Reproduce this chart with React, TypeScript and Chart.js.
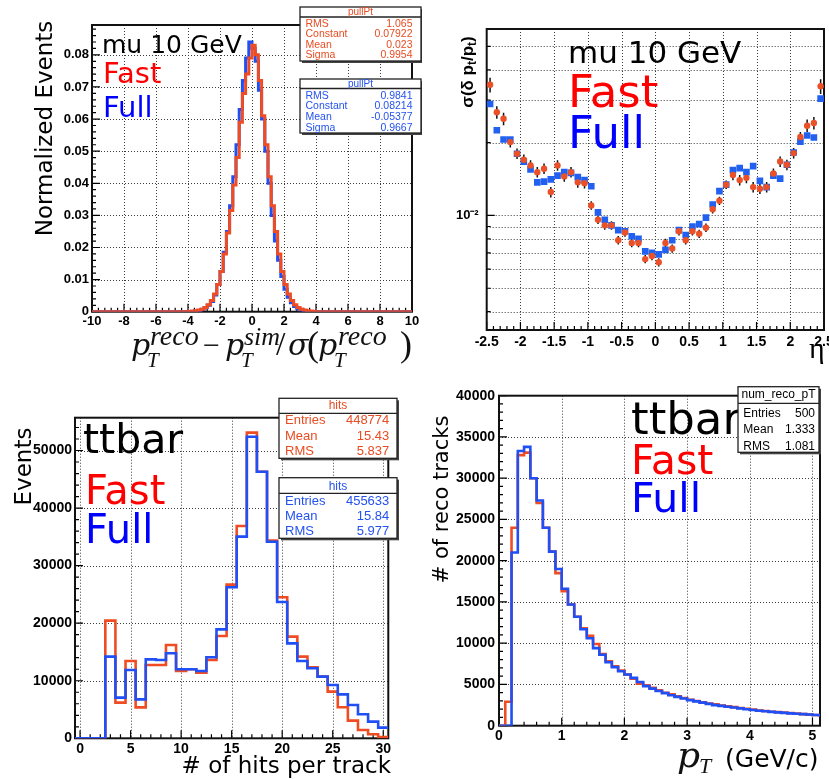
import React, { useEffect, useRef } from 'react';
import { Chart, registerables } from 'chart.js';
Chart.register(...registerables);

// ---------------- Data: panel 1 (pT pull, mu 10 GeV) ----------------
const pullFirstEdge = -4.0;
const pullBinWidth = 0.2;
const pullFast = [
  0.0001, 0.0002, 0.0003, 0.0005, 0.0008, 0.0013, 0.0022, 0.0035, 0.0055, 0.0085,
  0.0125, 0.018, 0.0245, 0.0315, 0.0395, 0.048, 0.059, 0.068, 0.074, 0.079,
  0.083, 0.08, 0.072, 0.061, 0.052, 0.042, 0.033, 0.025, 0.018, 0.0125,
  0.0085, 0.0055, 0.0035, 0.0022, 0.0013, 0.0008, 0.0005, 0.0003, 0.0002, 0.0001,
];
const pullFull = [
  0.0, 0.0001, 0.0002, 0.0004, 0.0007, 0.0012, 0.002, 0.0032, 0.0052, 0.0085,
  0.0125, 0.0185, 0.025, 0.033, 0.042, 0.052, 0.063, 0.072, 0.079, 0.084,
  0.082, 0.078, 0.069, 0.06, 0.05, 0.04, 0.03, 0.022, 0.016, 0.011,
  0.007, 0.0045, 0.0028, 0.0016, 0.0009, 0.0005, 0.0003, 0.0001, 0.0, 0.0,
];
const pullXTicks = [-10, -8, -6, -4, -2, 0, 2, 4, 6, 8, 10];
const pullYTicks = [0, 0.01, 0.02, 0.03, 0.04, 0.05, 0.06, 0.07, 0.08];

// ---------------- Data: panel 2 (resolution vs eta) ----------------
const etaFirstEdge = -2.5;
const etaBinWidth = 0.1;
const resFast = [
  0.0347, 0.0267, 0.0251, 0.0201, 0.018, 0.017, 0.0161, 0.0151, 0.0156, 0.0125,
  0.0161, 0.0145, 0.0151, 0.0137, 0.0136, 0.011, 0.0096, 0.0091, 0.0091, 0.0079,
  0.0085, 0.0077, 0.0077, 0.0066, 0.0068, 0.0064, 0.0077, 0.0073, 0.0086, 0.0079,
  0.0086, 0.0084, 0.0089, 0.0106, 0.0115, 0.0134, 0.0147, 0.014, 0.0143, 0.0131,
  0.0129, 0.0131, 0.0149, 0.0167, 0.0162, 0.0181, 0.0211, 0.0235, 0.0241, 0.0342,
];
const resFastErrRel = [
  0.07, 0.06, 0.06, 0.05, 0.05, 0.05, 0.05, 0.05, 0.05, 0.05,
  0.05, 0.05, 0.05, 0.05, 0.05, 0.04, 0.04, 0.04, 0.04, 0.04,
  0.04, 0.04, 0.04, 0.04, 0.04, 0.04, 0.04, 0.04, 0.04, 0.04,
  0.04, 0.04, 0.04, 0.04, 0.04, 0.04, 0.05, 0.05, 0.05, 0.05,
  0.05, 0.05, 0.05, 0.05, 0.05, 0.05, 0.05, 0.06, 0.06, 0.07,
];
const resFull = [
  0.0289, 0.0225, 0.0206, 0.0206, 0.018, 0.0167, 0.0155, 0.0137, 0.0138, 0.0141,
  0.0146, 0.0151, 0.015, 0.0144, 0.014, 0.0132, 0.0103, 0.0096, 0.0091, 0.0087,
  0.0086, 0.0082, 0.008, 0.0071, 0.007, 0.0069, 0.0072, 0.0079, 0.0087, 0.0083,
  0.009, 0.0092, 0.0098, 0.0111, 0.0126, 0.0134, 0.0154, 0.0157, 0.0151, 0.016,
  0.0139, 0.0131, 0.0146, 0.0142, 0.0162, 0.0182, 0.0202, 0.0214, 0.021, 0.0304,
];
const etaTicks = [-2.5, -2, -1.5, -1, -0.5, 0, 0.5, 1, 1.5, 2, 2.5];
const resYTicks = [0.004, 0.005, 0.006, 0.007, 0.008, 0.009, 0.01, 0.02, 0.03, 0.04, 0.05];

// ---------------- Data: panel 3 (hits per track, ttbar) ----------------
const hitsFirstEdge = -0.5;
const hitsBinWidth = 1;
const hitsFast = [
  0, 0, 0, 20440, 6200, 13430, 5380, 12740, 12740, 16210, 11700, 11990, 11400, 13600, 17780,
  26700, 36890, 53100, 46320, 34340, 24500, 17660, 14190, 12330, 10710, 8110, 5390, 3070, 1450, 700, 200,
];
const hitsFull = [
  0, 0, 0, 14190, 7060, 11870, 6770, 13720, 13600, 14770, 11990, 11990, 11700, 14070, 18930,
  26230, 35030, 52400, 46320, 34160, 23680, 16500, 13430, 12160, 10710, 9260, 7640, 5790, 4170, 2900, 1850,
];
const hitsXTicks = [0, 5, 10, 15, 20, 25, 30];
const hitsYTicks = [0, 10000, 20000, 30000, 40000, 50000];

// ---------------- Data: panel 4 (reco track pT, ttbar) ----------------
const ptFirstEdge = 0;
const ptBinWidth = 0.1;
const ptFast = [
  0, 2900, 24000, 32800, 33100, 30000, 27000, 24000, 21100, 18500,
  16300, 14700, 13200, 11800, 10900, 9900, 8700, 7800, 7200, 6700,
  6200, 5700, 5100, 4900, 4600, 4300, 4000, 3800, 3550, 3350,
  3150, 3000, 2850, 2700, 2600, 2450, 2350, 2250, 2150, 2050,
  1950, 1850, 1780, 1700, 1640, 1580, 1520, 1460, 1400, 1340,
  1300, 1280,
];
const ptFull = [
  0, 0, 21000, 33300, 33800, 30000, 27300, 24000, 21100, 19000,
  16600, 14700, 13200, 11700, 10600, 9400, 8600, 7700, 7100, 6600,
  6200, 5800, 5300, 4800, 4500, 4200, 3950, 3700, 3500, 3300,
  3100, 2950, 2800, 2650, 2500, 2400, 2300, 2200, 2100, 2000,
  1900, 1820, 1750, 1680, 1620, 1560, 1500, 1450, 1400, 1350,
  1300, 1280,
];
const ptXTicks = [0, 1, 2, 3, 4, 5];
const ptYTicks = [0, 5000, 10000, 15000, 20000, 25000, 30000, 35000, 40000];

// ---------------- Styles ----------------
const SANS = "'DejaVu Sans', sans-serif";
const TICKF = "'Liberation Sans', Arial, sans-serif";
const SERIF = "'Liberation Serif', 'DejaVu Serif', serif";
const DSERIF = "'DejaVu Serif', serif";
const FAST_LINE = '#ef4c24';
const FULL_LINE = '#1f4ff5';
const FAST_MARK = '#ea5128';
const FULL_MARK = '#2260f0';
const FAST_TXT = '#e84c22';
const FULL_TXT = '#2452ee';

// ---------------- Helpers ----------------
function range(a: number, b: number, step: number) {
  const out: number[] = [];
  const n = Math.round((b - a) / step);
  for (let i = 0; i <= n; i++) out.push(+(a + i * step).toFixed(6));
  return out;
}

function histPoints(first: number, width: number, vals: number[], lo: number, hi: number, dropAtEnd: boolean) {
  const pts: { x: number; y: number }[] = [];
  if (lo < first) pts.push({ x: lo, y: 0 });
  pts.push({ x: first, y: 0 });
  vals.forEach((v, i) => {
    pts.push({ x: first + i * width, y: v });
    pts.push({ x: first + (i + 1) * width, y: v });
  });
  const end = first + vals.length * width;
  if (dropAtEnd) {
    pts.push({ x: end, y: 0 });
    if (hi > end) pts.push({ x: hi, y: 0 });
  }
  return pts;
}

function axis(kind: 'x' | 'y', type: string, min: number, max: number, ticks: number[], fmt: (v: number) => string, size: number, fontSize: number, pad: number) {
  return {
    type,
    min,
    max,
    position: kind === 'x' ? 'bottom' : 'left',
    grid: { display: false, drawTicks: false },
    border: { display: false },
    afterBuildTicks: (s: any) => {
      s.ticks = ticks.map((v) => ({ value: v }));
    },
    afterFit: (s: any) => {
      if (kind === 'x') {
        s.height = size;
        s.paddingLeft = 0;
        s.paddingRight = 0;
      } else {
        s.width = size;
        s.paddingTop = 0;
        s.paddingBottom = 0;
      }
    },
    ticks: {
      autoSkip: false,
      maxRotation: 0,
      minRotation: 0,
      padding: pad,
      color: '#000',
      font: { family: TICKF, weight: 'bold', size: fontSize },
      callback: (v: any) => fmt(Number(v)),
    },
  };
}

function baseOptions(pad: any, x: any, y: any) {
  return {
    responsive: false,
    animation: false,
    devicePixelRatio: 1,
    events: [],
    layout: { padding: pad, autoPadding: false },
    plugins: { legend: { display: false }, tooltip: { enabled: false }, title: { display: false } },
    scales: { x, y },
  };
}

type Spec = {
  gridX: number[];
  gridY: number[];
  xMajor: number[];
  xMinor: number[];
  yMajor: number[];
  yMinor: number[];
  majorLen: number;
  minorLen: number;
  under?: (ctx: CanvasRenderingContext2D, chart: any) => void;
  over: (ctx: CanvasRenderingContext2D, chart: any) => void;
};

function deco(id: string, spec: Spec) {
  return {
    id,
    beforeDatasetsDraw(chart: any) {
      const { ctx, chartArea: a } = chart;
      const xs = chart.scales.x;
      const ys = chart.scales.y;
      ctx.save();
      ctx.strokeStyle = '#3a3a3a';
      ctx.lineWidth = 1;
      ctx.setLineDash([1, 2]);
      ctx.beginPath();
      for (const v of spec.gridX) {
        const px = Math.round(xs.getPixelForValue(v)) + 0.5;
        ctx.moveTo(px, a.top);
        ctx.lineTo(px, a.bottom);
      }
      for (const v of spec.gridY) {
        const py = Math.round(ys.getPixelForValue(v)) + 0.5;
        ctx.moveTo(a.left, py);
        ctx.lineTo(a.right, py);
      }
      ctx.stroke();
      ctx.setLineDash([]);
      ctx.strokeStyle = '#000';
      ctx.lineWidth = 1.2;
      ctx.beginPath();
      const xt: [number[], number][] = [[spec.xMajor, spec.majorLen], [spec.xMinor, spec.minorLen]];
      for (const [vals, len] of xt) {
        for (const v of vals) {
          const px = xs.getPixelForValue(v);
          if (px < a.left - 0.5 || px > a.right + 0.5) continue;
          ctx.moveTo(px, a.bottom);
          ctx.lineTo(px, a.bottom - len);
        }
      }
      const yt: [number[], number][] = [[spec.yMajor, spec.majorLen], [spec.yMinor, spec.minorLen]];
      for (const [vals, len] of yt) {
        for (const v of vals) {
          const py = ys.getPixelForValue(v);
          if (py < a.top - 0.5 || py > a.bottom + 0.5) continue;
          ctx.moveTo(a.left, py);
          ctx.lineTo(a.left + len, py);
        }
      }
      ctx.stroke();
      ctx.lineWidth = 2;
      ctx.strokeStyle = '#111';
      ctx.strokeRect(a.left, a.top, a.right - a.left, a.bottom - a.top);
      if (spec.under) spec.under(ctx, chart);
      ctx.restore();
    },
    afterDraw(chart: any) {
      const ctx = chart.ctx;
      ctx.save();
      ctx.setLineDash([]);
      spec.over(ctx, chart);
      ctx.restore();
    },
  };
}

function text(ctx: CanvasRenderingContext2D, s: string, x: number, y: number, font: string, color: string, align: CanvasTextAlign = 'left') {
  ctx.font = font;
  ctx.fillStyle = color;
  ctx.textAlign = align;
  ctx.textBaseline = 'alphabetic';
  ctx.fillText(s, x, y);
}

function rotated(ctx: CanvasRenderingContext2D, s: string, cx: number, cy: number, font: string) {
  ctx.save();
  ctx.translate(cx, cy);
  ctx.rotate(-Math.PI / 2);
  ctx.font = font;
  ctx.fillStyle = '#000';
  ctx.textAlign = 'center';
  ctx.textBaseline = 'alphabetic';
  ctx.fillText(s, 0, 0);
  ctx.restore();
}

type Box = {
  x: number; y: number; w: number; h: number;
  title: string; titleY: number; sepY: number;
  rows: [string, string, number][];
  lx: number; rx: number; color: string; font: number; titleFont: number;
};

function statsBox(ctx: CanvasRenderingContext2D, b: Box) {
  ctx.fillStyle = '#444';
  ctx.fillRect(b.x + 2, b.y + 2, b.w, b.h);
  ctx.fillStyle = '#fff';
  ctx.fillRect(b.x, b.y, b.w, b.h);
  ctx.strokeStyle = '#222';
  ctx.lineWidth = 1.3;
  ctx.strokeRect(b.x, b.y, b.w, b.h);
  ctx.beginPath();
  ctx.moveTo(b.x, b.sepY);
  ctx.lineTo(b.x + b.w, b.sepY);
  ctx.stroke();
  ctx.fillStyle = b.color;
  ctx.textBaseline = 'middle';
  ctx.font = `${b.titleFont}px ${TICKF}`;
  ctx.textAlign = 'center';
  ctx.fillText(b.title, b.x + b.w / 2, b.titleY);
  ctx.font = `${b.font}px ${TICKF}`;
  for (const [k, v, y] of b.rows) {
    ctx.textAlign = 'left';
    ctx.fillText(k, b.lx, y);
    ctx.textAlign = 'right';
    ctx.fillText(v, b.rx, y);
  }
}

// ---------------- Panel configs ----------------
function makePull() {
  const x = axis('x', 'linear', -10, 10, pullXTicks, (v) => String(v), 58.3, 13, 2);
  const y = axis('y', 'linear', 0, 0.0893, pullYTicks, (v) => (v === 0 ? '0' : v.toFixed(2)), 92, 13, 3);
  const it = (s: number) => `italic ${s}px ${SERIF}`;
  const dit = (s: number) => `italic ${s}px ${DSERIF}`;
  const up = (s: number) => `${s}px ${SERIF}`;
  return {
    type: 'line',
    data: {
      datasets: [
        { data: histPoints(pullFirstEdge, pullBinWidth, pullFast, -10, 10, true), borderColor: FAST_LINE, borderWidth: 3, pointRadius: 0, fill: false, tension: 0, borderJoinStyle: 'miter' },
        { data: histPoints(pullFirstEdge, pullBinWidth, pullFull, -10, 10, true), borderColor: FULL_LINE, borderWidth: 3, pointRadius: 0, fill: false, tension: 0, borderJoinStyle: 'miter' },
      ],
    },
    options: baseOptions({ left: 0, top: 25, right: 10, bottom: 0 }, x, y),
    plugins: [
      deco('decoPull', {
        gridX: range(-8, 8, 2),
        gridY: range(0.01, 0.08, 0.01),
        xMajor: pullXTicks,
        xMinor: range(-10, 10, 0.4),
        yMajor: pullYTicks,
        yMinor: range(0, 0.088, 0.002),
        majorLen: 8,
        minorLen: 4,
        over: (ctx) => {
          text(ctx, 'mu 10 GeV', 102, 53, `25px ${SANS}`, '#000');
          text(ctx, 'Fast', 103, 83, `29px ${SANS}`, '#ff0000');
          text(ctx, 'Full', 103, 117, `29px ${SANS}`, '#0000ff');
          rotated(ctx, 'Normalized Events', 52, 128.5, `23px ${SANS}`);
          const pieces: [string, string, number, number][] = [
            ['p', dit(30), 131, 355], ['reco', it(28), 150, 345], ['T', it(21), 147, 367],
            ['\u2212', up(30), 203, 355],
            ['p', dit(30), 225, 355], ['sim', it(26), 244, 345], ['T', it(21), 241, 367],
            ['/', up(34), 276, 355], ['\u03c3', dit(30), 288, 355], ['(', up(36), 307, 356],
            ['p', dit(30), 318, 355], ['reco', it(28), 338, 345], ['T', it(21), 334, 367],
            [')', up(36), 400, 356],
          ];
          for (const [s, f, px, py] of pieces) text(ctx, s, px, py, f, '#111');
          statsBox(ctx, {
            x: 300, y: 7, w: 121, h: 54, title: 'pullPt', titleY: 12, sepY: 17,
            rows: [['RMS', '1.065', 24], ['Constant', '0.07922', 34.5], ['Mean', '0.023', 45], ['Sigma', '0.9954', 55.5]],
            lx: 305.5, rx: 412.5, color: FAST_TXT, font: 10.5, titleFont: 10,
          });
          statsBox(ctx, {
            x: 300, y: 79, w: 121, h: 54, title: 'pullPt', titleY: 84, sepY: 88.5,
            rows: [['RMS', '0.9841', 95.7], ['Constant', '0.08214', 106.5], ['Mean', '-0.05377', 117], ['Sigma', '0.9667', 128]],
            lx: 305.5, rx: 412.5, color: FULL_TXT, font: 10.5, titleFont: 10,
          });
        },
      }),
    ],
  };
}

function makeRes() {
  const x = axis('x', 'linear', -2.5, 2.5, etaTicks, (v) => String(v), 40, 14, 4);
  const y = axis('y', 'logarithmic', 0.00336, 0.059, resYTicks, (v) => (Math.abs(v - 0.01) < 1e-9 ? '10\u207B\u00B2' : ''), 64.7, 13, 8);
  const centers = resFast.map((_, i) => etaFirstEdge + (i + 0.5) * etaBinWidth);
  return {
    type: 'scatter',
    data: {
      datasets: [
        { data: resFast.map((v, i) => ({ x: centers[i], y: v })), pointStyle: 'circle', pointRadius: 3.2, backgroundColor: FAST_MARK, pointBorderWidth: 0, borderWidth: 0 },
        { data: resFull.map((v, i) => ({ x: centers[i], y: v })), pointStyle: 'rect', pointRadius: 4.7, backgroundColor: FULL_MARK, pointBorderWidth: 0, borderWidth: 0 },
      ],
    },
    options: baseOptions({ left: 0, top: 29, right: 5, bottom: 0 }, x, y),
    plugins: [
      deco('decoRes', {
        gridX: range(-2, 2, 0.5),
        gridY: resYTicks,
        xMajor: etaTicks,
        xMinor: range(-2.5, 2.5, 0.1),
        yMajor: [0.01],
        yMinor: resYTicks.filter((v) => v !== 0.01),
        majorLen: 8,
        minorLen: 4,
        under: (ctx, chart) => {
          const xs = chart.scales.x;
          const ys = chart.scales.y;
          ctx.strokeStyle = '#111';
          ctx.lineWidth = 1.5;
          ctx.beginPath();
          resFast.forEach((v, i) => {
            const px = xs.getPixelForValue(centers[i]);
            ctx.moveTo(px, ys.getPixelForValue(v * (1 + resFastErrRel[i])));
            ctx.lineTo(px, ys.getPixelForValue(v * (1 - resFastErrRel[i])));
          });
          ctx.stroke();
        },
        over: (ctx) => {
          text(ctx, 'mu 10 GeV', 146, 63, `31px ${SANS}`, '#000');
          text(ctx, 'Fast', 146, 107, `45px ${SANS}`, '#ff0000');
          text(ctx, 'Full', 146, 148, `45px ${SANS}`, '#0000ff');
          text(ctx, '\u03b7', 387, 358, `30px ${SERIF}`, '#000');
          // rotated y title: sigma(delta p_t / p_t)
          ctx.save();
          ctx.translate(51, 72);
          ctx.rotate(-Math.PI / 2);
          const big = `bold 17px ${TICKF}`;
          const small = `bold 12px ${TICKF}`;
          const parts: [string, string, number][] = [
            ['\u03c3(\u03b4 p', big, 0], ['t', small, 3], ['/p', big, 0], ['t', small, 3], [')', big, 0],
          ];
          let total = 0;
          for (const [s, f] of parts) {
            ctx.font = f;
            total += ctx.measureText(s).width;
          }
          let cx = -total / 2;
          ctx.fillStyle = '#000';
          ctx.textAlign = 'left';
          ctx.textBaseline = 'alphabetic';
          for (const [s, f, dy] of parts) {
            ctx.font = f;
            ctx.fillText(s, cx, dy);
            cx += ctx.measureText(s).width;
          }
          ctx.restore();
        },
      }),
    ],
  };
}

function makeHits() {
  const x = axis('x', 'linear', -0.5, 30.5, hitsXTicks, (v) => String(v), 40.7, 14, 2);
  const y = axis('y', 'linear', 0, 55700, hitsYTicks, (v) => String(v), 75, 14, 3);
  return {
    type: 'line',
    data: {
      datasets: [
        { data: histPoints(hitsFirstEdge, hitsBinWidth, hitsFull, -0.5, 30.5, false), borderColor: FULL_LINE, borderWidth: 2.6, pointRadius: 0, fill: false, tension: 0, borderJoinStyle: 'miter' },
        { data: histPoints(hitsFirstEdge, hitsBinWidth, hitsFast, -0.5, 30.5, false), borderColor: FAST_LINE, borderWidth: 2.6, pointRadius: 0, fill: false, tension: 0, borderJoinStyle: 'miter' },
      ],
    },
    options: baseOptions({ left: 0, top: 47.7, right: 33.7, bottom: 0 }, x, y),
    plugins: [
      deco('decoHits', {
        gridX: hitsXTicks,
        gridY: range(10000, 50000, 10000),
        xMajor: hitsXTicks,
        xMinor: range(0, 30, 1),
        yMajor: hitsYTicks,
        yMinor: range(0, 54000, 2000),
        majorLen: 8,
        minorLen: 4,
        over: (ctx) => {
          text(ctx, 'ttbar', 83, 83, `41px ${SANS}`, '#000');
          text(ctx, 'Fast', 85, 134, `40px ${SANS}`, '#ff0000');
          text(ctx, 'Full', 85, 173, `40px ${SANS}`, '#0000ff');
          rotated(ctx, 'Events', 31, 96.5, `23px ${SANS}`);
          text(ctx, '# of hits per track', 391, 403, `23px ${SANS}`, '#000', 'right');
          statsBox(ctx, {
            x: 279, y: 28.3, w: 118, h: 60, title: 'hits', titleY: 35.7, sepY: 43.3,
            rows: [['Entries', '448774', 50.7], ['Mean', '15.43', 66], ['RMS', '5.837', 81]],
            lx: 285, rx: 389.3, color: FAST_TXT, font: 13, titleFont: 12,
          });
          statsBox(ctx, {
            x: 279, y: 107.7, w: 118, h: 60.6, title: 'hits', titleY: 116.7, sepY: 123.3,
            rows: [['Entries', '455633', 131.7], ['Mean', '15.84', 146], ['RMS', '5.977', 161.7]],
            lx: 285, rx: 389.3, color: FULL_TXT, font: 13, titleFont: 12,
          });
        },
      }),
    ],
  };
}

function makePt() {
  const x = axis('x', 'linear', 0, 5.12, ptXTicks, (v) => String(v), 53.3, 14, 2);
  const y = axis('y', 'linear', 0, 40000, ptYTicks, (v) => String(v), 77, 14, 4);
  return {
    type: 'line',
    data: {
      datasets: [
        { data: histPoints(ptFirstEdge, ptBinWidth, ptFull, 0, 5.12, false), borderColor: FULL_LINE, borderWidth: 2.6, pointRadius: 0, fill: false, tension: 0, borderJoinStyle: 'miter' },
        { data: histPoints(ptFirstEdge, ptBinWidth, ptFast, 0, 5.12, false), borderColor: FAST_LINE, borderWidth: 2.6, pointRadius: 0, fill: false, tension: 0, borderJoinStyle: 'miter' },
      ],
    },
    options: baseOptions({ left: 0, top: 25.7, right: 9, bottom: 0 }, x, y),
    plugins: [
      deco('decoPt', {
        gridX: range(1, 5, 1),
        gridY: range(5000, 35000, 5000),
        xMajor: ptXTicks,
        xMinor: range(0, 5.2, 0.2),
        yMajor: ptYTicks,
        yMinor: range(0, 40000, 1000),
        majorLen: 8,
        minorLen: 4,
        over: (ctx) => {
          text(ctx, 'ttbar', 209, 64, `45px ${SANS}`, '#000');
          text(ctx, 'Fast', 209, 104, `41px ${SANS}`, '#ff0000');
          text(ctx, 'Full', 209, 142, `41px ${SANS}`, '#0000ff');
          rotated(ctx, '# of reco tracks', 26, 129.5, `21px ${SANS}`);
          text(ctx, 'p', 255, 396.7, `italic 36px ${DSERIF}`, '#111');
          text(ctx, 'T', 277, 403, `italic 22px ${SERIF}`, '#111');
          text(ctx, '(GeV/c)', 303, 396.7, `25px ${SANS}`, '#000');
          statsBox(ctx, {
            x: 316, y: 16.7, w: 81, h: 65.6, title: 'num_reco_pT', titleY: 25, sepY: 33.3,
            rows: [['Entries', '500', 44], ['Mean', '1.333', 59.3], ['RMS', '1.081', 76.7]],
            lx: 321.3, rx: 393, color: '#000', font: 12, titleFont: 12,
          });
        },
      }),
    ],
  };
}

function ChartPanel(props: { left: number; top: number; width: number; height: number; make: () => any }) {
  const ref = useRef<HTMLCanvasElement | null>(null);
  useEffect(() => {
    const chart = new Chart(ref.current as HTMLCanvasElement, props.make());
    return () => chart.destroy();
  }, []);
  return (
    <canvas
      ref={ref}
      width={props.width}
      height={props.height}
      style={{ position: 'absolute', left: props.left, top: props.top, width: props.width, height: props.height }}
    />
  );
}

export default function App() {
  return (
    <div style={{ position: 'fixed', left: 0, top: 0, width: 829, height: 779, background: '#fff', overflow: 'hidden' }}>
      <ChartPanel left={0} top={0} width={422} height={370} make={makePull} />
      <ChartPanel left={422} top={0} width={407} height={370} make={makeRes} />
      <ChartPanel left={0} top={370} width={422} height={409} make={makeHits} />
      <ChartPanel left={422} top={370} width={407} height={409} make={makePt} />
    </div>
  );
}
